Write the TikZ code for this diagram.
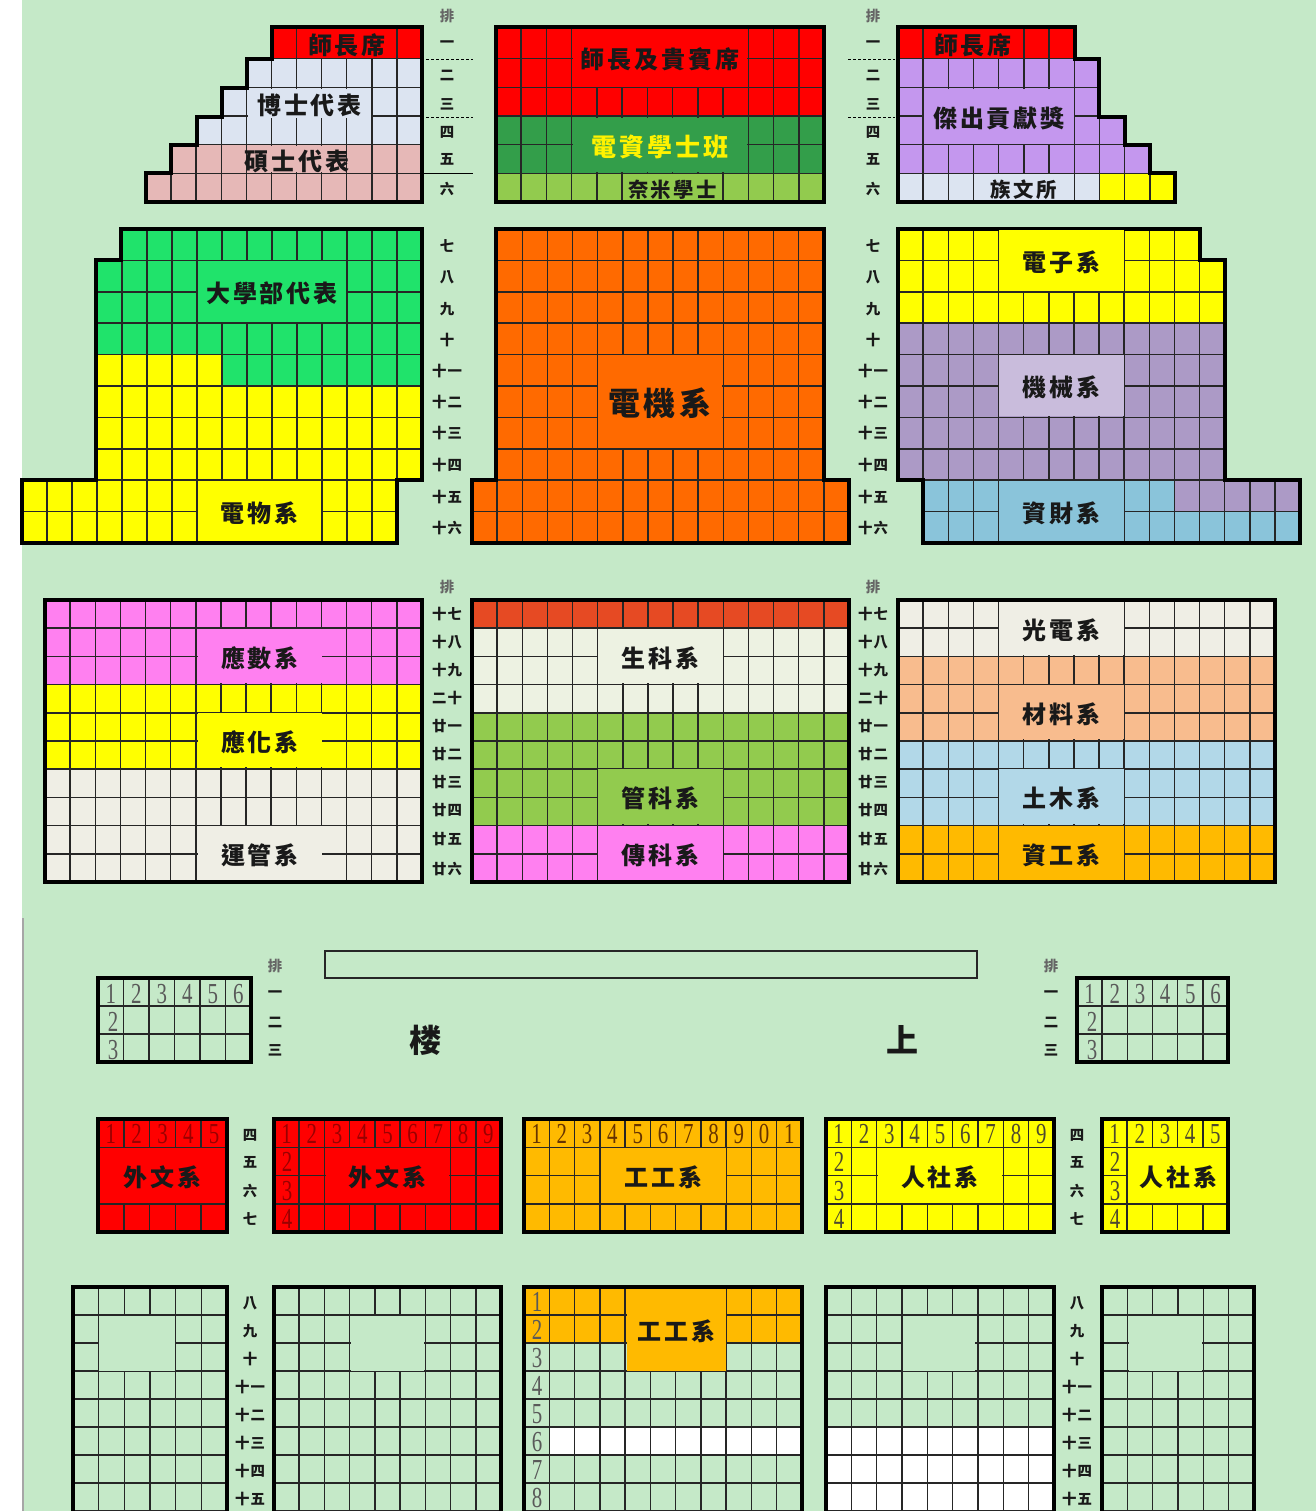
\documentclass[tikz,border=0pt]{standalone}
\usepackage{fontspec}
\newfontfamily\cjkfont[LetterSpace=12]{Noto Sans CJK TC}
\newfontfamily\rowfont[LetterSpace=8]{Noto Sans CJK TC}
\newfontfamily\digitfont[FakeStretch=0.72]{Liberation Serif}

\definecolor{hallbg}{HTML}{C5E9C8}
\definecolor{seatred}{HTML}{FF0000}
\definecolor{phdblue}{HTML}{DCE4F1}
\definecolor{masterpink}{HTML}{E6B8B7}
\definecolor{darkgreen}{HTML}{339E4A}
\definecolor{leafgreen}{HTML}{92CB4E}
\definecolor{purplelight}{HTML}{C497EE}
\definecolor{seatyellow}{HTML}{FFFF00}
\definecolor{ugreen}{HTML}{20E36B}
\definecolor{seatorange}{HTML}{FF6A00}
\definecolor{mechpurple}{HTML}{AC9AC6}
\definecolor{mechlight}{HTML}{C9BCDC}
\definecolor{finblue}{HTML}{8AC4DA}
\definecolor{mathpink}{HTML}{FF80F0}
\definecolor{offwhite}{HTML}{EFEEE5}
\definecolor{bioWhite}{HTML}{EDF2E2}
\definecolor{brickred}{HTML}{E64A23}
\definecolor{peach}{HTML}{F8BC8E}
\definecolor{civilblue}{HTML}{B2D8E8}
\definecolor{amber}{HTML}{FFBA00}

\tikzset{
  seatline/.style={line width=0.75pt, draw=black!85},
  seatframe/.style={line width=2pt, draw=black, line join=miter},
  deptlabel/.style={font=\cjkfont\bfseries\fontsize{12}{12}\selectfont, text=black!90, inner sep=0pt, yshift=-1pt},
  smalldept/.style={font=\cjkfont\bfseries\fontsize{10.2}{11}\selectfont},
  rowlabel/.style={font=\rowfont\bfseries\fontsize{7.2}{8}\selectfont, text=black!90, inner sep=0pt, yshift=-0.5pt},
  rowhead/.style={rowlabel, text=black!60},
  digit/.style={font=\digitfont\fontsize{14.5}{15}\selectfont, text=#1, inner sep=0pt, yshift=-0.5pt},
  digit/.default={black!65},
  dashlink/.style={line width=0.5pt, dash pattern=on 1.5pt off 1pt}
}

% #1 x from, #2 x to, #3 columns, #4 y from, #5 y to, #6 rows
\newcommand{\seatgrid}[6]{%
  \foreach \i in {1,...,#3} \draw[seatline] ({#1+(#2-#1)/#3*\i},{#4-3}) -- ({#1+(#2-#1)/#3*\i},#5);
  \foreach \j in {1,...,#6} \draw[seatline] (#1,{#4+(#5-#4)/#6*\j}) -- (#2,{#4+(#5-#4)/#6*\j});
}
% #1 name, #2 x from, #3 y from, #4 x to, #5 y to, #6 colour, #7 text
\newcommand{\mergecell}[8][]{%
  \fill[#7] ({#3+0.8},{#4+0.8}) rectangle ({#5-0.8},{#6-0.8});
  \node[deptlabel,#1] (#2) at ({(#3+#5)/2},{(#4+#6)/2}) {#8};
}
% #1 outline, #2 contents
\newcommand{\seatblock}[2]{%
  \begin{scope}
    \clip #1;
    #2
  \end{scope}
  \draw[seatframe] #1;
}

\begin{document}
\begin{tikzpicture}[x=0.5pt,y=-0.5pt]
    \useasboundingbox (0,0) rectangle (1316,1511);
    \clip (0,0) rectangle (1316,1511);
    \fill[white] (0,0) rectangle (1316,1511);
    \fill[hallbg] (22,0) rectangle (1316,1511);
    \draw[black!35, line width=0.6pt] (23,918) -- (23,1511);

    % Front left
    \seatblock{(272,27) -- (422,27) -- (422,202) -- (146,202) -- (146,173) -- (171,173) -- (171,145) -- (197,145) -- (197,117) -- (222,117) -- (222,88) -- (247,88) -- (247,59) -- (272,59) -- cycle}{
        \fill[seatred] (146,27) rectangle (422,59);
        \fill[phdblue] (146,59) rectangle (422,145);
        \fill[masterpink] (146,145) rectangle (422,202);
        \seatgrid{146}{422}{11}{30}{202}{6}
        \mergecell{teacherL}{297}{27}{397}{59}{seatred}{師長席}
        \mergecell{phdRep}{247}{88}{372}{118.5}{phdblue}{博士代表}
        \mergecell{masterRep}{247}{145}{347}{173}{masterpink}{碩士代表}
    }

    % Front centre
    \seatblock{(496,27) -- (824,27) -- (824,202) -- (496,202) -- cycle}{
        \fill[seatred] (496,27) rectangle (824,117);
        \fill[darkgreen] (496,117) rectangle (824,173);
        \fill[leafgreen] (496,173) rectangle (824,202);
        \seatgrid{496}{824}{13}{30}{202}{6}
        \mergecell{guests}{572}{27}{748}{88}{seatred}{師長及貴賓席}
        \mergecell[text=yellow,font=\cjkfont\bfseries\fontsize{12.5}{13}\selectfont]{eeBachelor}{572}{117}{748}{173}{darkgreen}{電資學士班}
        \mergecell[smalldept]{nano}{622}{173}{723}{202}{leafgreen}{奈米學士}
    }

    % Front right
    \seatblock{(898,27) -- (1075,27) -- (1075,59) -- (1099,59) -- (1099,117) -- (1125,117) -- (1125,145) -- (1150,145) -- (1150,173) -- (1175,173) -- (1175,202) -- (898,202) -- cycle}{
        \fill[seatred] (898,27) rectangle (1175,59);
        \fill[purplelight] (898,59) rectangle (1175,173);
        \fill[phdblue] (898,173) rectangle (1100,202);
        \fill[seatyellow] (1100,173) rectangle (1175,202);
        \seatgrid{898}{1175}{11}{30}{202}{6}
        \mergecell{teacherR}{923}{27}{1023}{59}{seatred}{師長席}
        \mergecell{award}{923}{88}{1075}{145}{purplelight}{傑出貢獻獎}
        \mergecell[smalldept]{ethnic}{973}{173}{1075}{202}{phdblue}{族文所}
    }

    % Middle left
    \seatblock{(121,229) -- (422,229) -- (422,480) -- (397,480) -- (397,543) -- (22,543) -- (22,480) -- (96,480) -- (96,260) -- (121,260) -- cycle}{
        \fill[seatyellow] (22,229) rectangle (422,543);
        \fill[ugreen] (96,229) rectangle (422,354);
        \fill[ugreen] (222,354) rectangle (422,386);
        \seatgrid{22}{422}{16}{229}{543}{10}
        \mergecell{undergrad}{197}{260}{347}{323}{ugreen}{大學部代表}
        \mergecell{physics}{197}{480}{322}{543}{seatyellow}{電物系}
    }

    % Middle centre
    \seatblock{(496,229) -- (824,229) -- (824,480) -- (849,480) -- (849,543) -- (472,543) -- (472,480) -- (496,480) -- cycle}{
        \fill[seatorange] (472,229) rectangle (849,543);
        \seatgrid{472}{849}{15}{229}{543}{10}
        \mergecell[font=\cjkfont\bfseries\fontsize{16}{16}\selectfont]{electrical}{597}{354}{723}{449}{seatorange}{電機系}
    }

    % Middle right
    \seatblock{(898,229) -- (1200,229) -- (1200,260) -- (1225,260) -- (1225,480) -- (1300,480) -- (1300,543) -- (923,543) -- (923,480) -- (898,480) -- cycle}{
        \fill[seatyellow] (898,229) rectangle (1225,323);
        \fill[mechpurple] (898,323) rectangle (1300,512);
        \fill[finblue] (923,480) rectangle (1175,543);
        \fill[finblue] (1175,512) rectangle (1300,543);
        \seatgrid{898}{1300}{16}{229}{543}{10}
        \mergecell{mechanical}{998}{354}{1125}{417}{mechlight}{機械系}
        \mergecell{finance}{998}{480}{1125}{543}{finblue}{資財系}
    }
    \mergecell{electronics}{998}{229}{1125}{292}{seatyellow}{電子系}

    % Rear left
    \seatblock{(45,600) -- (422,600) -- (422,882) -- (45,882) -- cycle}{
        \fill[mathpink] (45,600) rectangle (422,684);
        \fill[seatyellow] (45,684) rectangle (422,768);
        \fill[offwhite] (45,768) rectangle (422,882);
        \seatgrid{45}{422}{15}{600}{882}{10}
        \mergecell{appliedMath}{197}{628}{323}{684}{mathpink}{應數系}
        \mergecell{appliedChem}{197}{712}{323}{768}{seatyellow}{應化系}
        \mergecell{transport}{197}{825}{323}{882}{offwhite}{運管系}
    }

    % Rear centre
    \seatblock{(472,600) -- (849,600) -- (849,882) -- (472,882) -- cycle}{
        \fill[brickred] (472,600) rectangle (849,628);
        \fill[bioWhite] (472,628) rectangle (849,712);
        \fill[leafgreen] (472,712) rectangle (849,825);
        \fill[mathpink] (472,825) rectangle (849,882);
        \seatgrid{472}{849}{15}{600}{882}{10}
        \mergecell{biology}{597}{628}{724}{684}{bioWhite}{生科系}
        \mergecell{management}{597}{768}{724}{825}{leafgreen}{管科系}
        \mergecell{comm}{597}{825}{724}{882}{mathpink}{傳科系}
    }

    % Rear right
    \seatblock{(898,600) -- (1275,600) -- (1275,882) -- (898,882) -- cycle}{
        \fill[offwhite] (898,600) rectangle (1275,656);
        \fill[peach] (898,656) rectangle (1275,740);
        \fill[civilblue] (898,740) rectangle (1275,825);
        \fill[amber] (898,825) rectangle (1275,882);
        \seatgrid{898}{1275}{15}{600}{882}{10}
        \mergecell{photonics}{998}{600}{1125}{656}{offwhite}{光電系}
        \mergecell{materials}{998}{684}{1125}{740}{peach}{材料系}
        \mergecell{civil}{998}{768}{1125}{825}{civilblue}{土木系}
        \mergecell{csie}{998}{825}{1125}{882}{amber}{資工系}
    }

    % Row numbers, main floor
    \foreach \rx in {447,873} {
        \foreach \ry/\rt [count=\n] in {43/一,74/二,103/三,131/四,158/五,188/六,245/七,276/八,308/九,339/十,370/十一,401/十二,432/十三,464/十四,496/十五,527/十六,613/十七,641/十八,669/十九,697/二十,725/廿一,753/廿二,781/廿三,809/廿四,838/廿五,868/廿六}
            \node[rowlabel] (floor\rx-\n) at (\rx,\ry) {\rt};
    }
    \foreach \hx/\hy [count=\n] in {447/15,873/15,447/586,873/586,275/965,1051/965}
        \node[rowhead] (rowword\n) at (\hx,\hy) {排};
    \draw[dashlink] (426,59) -- (473,59);
    \draw[dashlink] (426,117) -- (473,117);
    \draw[line width=0.5pt] (424,173) -- (473,173);
    \draw[dashlink] (848,59) -- (895,59);
    \draw[dashlink] (848,117) -- (895,117);

    % Balcony top
    \draw[line width=0.7pt, black!85] (325,951) rectangle (977,978);
    \node[deptlabel, font=\cjkfont\bfseries\fontsize{16}{16}\selectfont] (floorA) at (425,1038) {楼};
    \node[deptlabel, font=\cjkfont\bfseries\fontsize{16}{16}\selectfont] (floorB) at (902,1038) {上};

    \seatblock{(98,978) -- (251,978) -- (251,1062) -- (98,1062) -- cycle}{
        \seatgrid{98}{251}{6}{978}{1062}{3}
    }
    \seatblock{(1077,978) -- (1228,978) -- (1228,1062) -- (1077,1062) -- cycle}{
        \seatgrid{1077}{1228}{6}{978}{1062}{3}
    }
    \foreach \d [count=\n] in {1,2,3,4,5,6} {
        \node[digit] (smallL\n) at ({98+25.5*(\n-0.5)},993) {\d};
        \node[digit] (smallR\n) at ({1077+25.2*(\n-0.5)},993) {\d};
    }
    \foreach \d/\dy in {2/1021,3/1049} {
        \node[digit] (smallLc\d) at (113,\dy) {\d};
        \node[digit] (smallRc\d) at (1092,\dy) {\d};
    }
    \foreach \rx in {275,1051}
        \foreach \ry/\rt [count=\n] in {993/一,1021/二,1049/三}
            \node[rowlabel] (balcA\rx-\n) at (\rx,\ry) {\rt};

    % Balcony second tier
    \seatblock{(98,1119) -- (227,1119) -- (227,1232) -- (98,1232) -- cycle}{
        \fill[seatred] (98,1119) rectangle (227,1232);
        \seatgrid{98}{227}{5}{1119}{1232}{4}
        \mergecell{foreignA}{96}{1147}{229}{1204}{seatred}{外文系}
    }
    \seatblock{(274,1119) -- (501,1119) -- (501,1232) -- (274,1232) -- cycle}{
        \fill[seatred] (274,1119) rectangle (501,1232);
        \seatgrid{274}{501}{9}{1119}{1232}{4}
        \mergecell{foreignB}{325}{1147}{450}{1204}{seatred}{外文系}
    }
    \seatblock{(524,1119) -- (802,1119) -- (802,1232) -- (524,1232) -- cycle}{
        \fill[amber] (524,1119) rectangle (802,1232);
        \seatgrid{524}{802}{11}{1119}{1232}{4}
        \mergecell{industrialA}{600}{1147}{727}{1204}{amber}{工工系}
    }
    \seatblock{(826,1119) -- (1054,1119) -- (1054,1232) -- (826,1232) -- cycle}{
        \fill[seatyellow] (826,1119) rectangle (1054,1232);
        \seatgrid{826}{1054}{9}{1119}{1232}{4}
        \mergecell{humanA}{877}{1147}{1003}{1204}{seatyellow}{人社系}
    }
    \seatblock{(1102,1119) -- (1228,1119) -- (1228,1232) -- (1102,1232) -- cycle}{
        \fill[seatyellow] (1102,1119) rectangle (1228,1232);
        \seatgrid{1102}{1228}{5}{1119}{1232}{4}
        \mergecell{humanB}{1127}{1147}{1230}{1204}{seatyellow}{人社系}
    }
    \foreach \d [count=\n] in {1,2,3,4,5} {
        \node[digit=red!60!black] (foreignAd\n) at ({98+25.8*(\n-0.5)},1133) {\d};
        \node[digit=black!60!olive] (humanBd\n) at ({1102+25.2*(\n-0.5)},1133) {\d};
    }
    \foreach \d [count=\n] in {1,2,3,4,5,6,7,8,9} {
        \node[digit=red!60!black] (foreignBd\n) at ({274+25.22*(\n-0.5)},1133) {\d};
        \node[digit=black!60!olive] (humanAd\n) at ({826+25.33*(\n-0.5)},1133) {\d};
    }
    \foreach \d [count=\n] in {1,2,3,4,5,6,7,8,9,0,1}
        \node[digit=black!60!orange] (industrialAd\n) at ({524+25.27*(\n-0.5)},1133) {\d};
    \foreach \d/\dy in {2/1161,3/1190,4/1218} {
        \node[digit=red!60!black] (foreignBc\d) at (287,\dy) {\d};
        \node[digit=black!60!olive] (humanAc\d) at (839,\dy) {\d};
        \node[digit=black!60!olive] (humanBc\d) at (1115,\dy) {\d};
    }
    \foreach \rx in {250,1077}
        \foreach \ry/\rt [count=\n] in {1134/四,1161/五,1190/六,1218/七}
            \node[rowlabel] (balcB\rx-\n) at (\rx,\ry) {\rt};

    % Balcony rear, runs off the page
    \seatblock{(73,1530) -- (73,1287) -- (227,1287) -- (227,1530)}{
        \seatgrid{73}{227}{6}{1287}{1511}{8}
        \mergecell{emptyA}{98}{1315}{176}{1372}{hallbg}{}
    }
    \seatblock{(274,1530) -- (274,1287) -- (501,1287) -- (501,1530)}{
        \seatgrid{274}{501}{9}{1287}{1511}{8}
        \mergecell{emptyB}{350}{1315}{425}{1372}{hallbg}{}
    }
    \seatblock{(524,1530) -- (524,1287) -- (802,1287) -- (802,1530)}{
        \fill[amber] (524,1287) rectangle (802,1343);
        \fill[white] (550,1428) rectangle (802,1456);
        \seatgrid{524}{802}{11}{1287}{1511}{8}
        \mergecell{industrialB}{626}{1287}{727}{1372}{amber}{工工系}
    }
    \seatblock{(826,1530) -- (826,1287) -- (1054,1287) -- (1054,1530)}{
        \fill[white] (826,1428) rectangle (1054,1511);
        \seatgrid{826}{1054}{9}{1287}{1511}{8}
        \mergecell{emptyC}{902}{1315}{976}{1372}{hallbg}{}
    }
    \seatblock{(1102,1530) -- (1102,1287) -- (1254,1287) -- (1254,1530)}{
        \seatgrid{1102}{1254}{6}{1287}{1511}{8}
        \mergecell{emptyD}{1128}{1315}{1203}{1372}{hallbg}{}
    }
    \foreach \d [count=\n] in {1,2,3,4,5,6,7,8}
        \node[digit] (industrialBc\d) at (537,{1273+28*\n}) {\d};
    \foreach \rx in {250,1077}
        \foreach \ry/\rt [count=\n] in {1302/八,1330/九,1358/十,1386/十一,1414/十二,1442/十三,1470/十四,1498/十五}
            \node[rowlabel] (balcC\rx-\n) at (\rx,\ry) {\rt};
\end{tikzpicture}
\end{document}
